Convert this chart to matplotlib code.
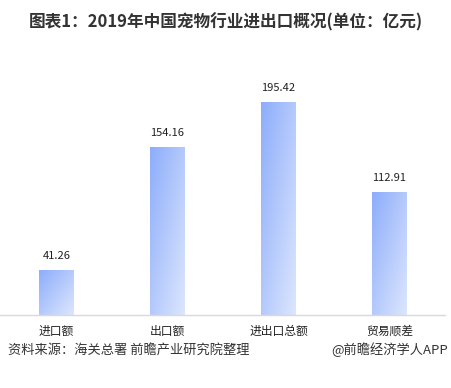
import matplotlib
matplotlib.use("Agg")
import matplotlib.pyplot as plt
import numpy as np
from matplotlib.colors import to_rgb
from matplotlib.patches import Rectangle

plt.rcParams['font.family'] = ['Noto Sans CJK SC', 'DejaVu Sans']

categories = ['进口额', '出口额', '进出口总额', '贸易顺差']
values = [41.26, 154.16, 195.42, 112.91]
value_labels = ['41.26', '154.16', '195.42', '112.91']
title = '图表1：2019年中国宠物行业进出口概况(单位：亿元)'
source = '资料来源：海关总署 前瞻产业研究院整理'
brand = '@前瞻经济学人APP'

fig = plt.figure(figsize=(4.51, 3.88), dpi=100)
ax = fig.add_axes([0, 73/388, 445/451, 240/388])
ax.set_xlim(-0.509, 3.5)
ax.set_ylim(0, 220)
for s in ['top', 'right', 'left']:
    ax.spines[s].set_visible(False)
ax.spines['bottom'].set_color('#d9d9d9')
ax.spines['bottom'].set_linewidth(1)
ax.set_yticks([])
ax.set_xticks(range(len(categories)))
ax.set_xticklabels(categories, fontsize=8.5, color='#222222')
ax.tick_params(axis='x', length=0, pad=7)

c_dark = np.array(to_rgb('#8dadfb'))
c_light = np.array(to_rgb('#dce6fd'))
width = 0.315
bars = ax.bar(range(len(values)), values, width=width, color='none', edgecolor='none')
for i, (b, v) in enumerate(zip(bars, values)):
    nx, ny = 40, 100
    u = np.linspace(0, 1, nx)[None, :]
    w = np.linspace(0, 1, ny)[:, None]  # 0 top -> 1 bottom
    t = np.clip(0.5 * u + 0.5 * w, 0, 1)
    img = c_dark[None, None, :] * (1 - t[..., None]) + c_light[None, None, :] * t[..., None]
    x0 = b.get_x()
    im = ax.imshow(img, extent=[x0, x0 + width, 0, v], origin='upper',
                   aspect='auto', interpolation='bilinear', zorder=2)
    clip = Rectangle((x0, 0), width, v, transform=ax.transData)
    im.set_clip_path(clip)
    ax.text(i, v + 8, value_labels[i], ha='center', va='bottom',
            fontsize=8, color='#222222')
ax.set_xlim(-0.509, 3.5)
ax.set_ylim(0, 220)

fig.text(0.5, 1 - 22/388, title, ha='center', va='center', fontsize=12,
         fontweight='bold', color='#333333')
fig.text(8/451, 1 - 350/388, source, ha='left', va='center', fontsize=9.5,
         color='#333333')
fig.text(448/451, 1 - 350/388, brand, ha='right', va='center', fontsize=9.5,
         color='#333333')

fig.savefig('out.png', dpi=100)
